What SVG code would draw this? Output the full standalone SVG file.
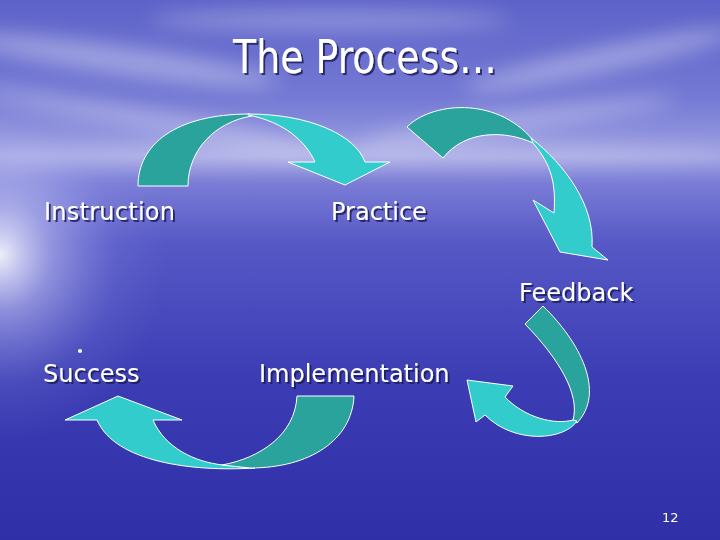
<svg xmlns="http://www.w3.org/2000/svg" width="720" height="540" viewBox="0 0 720 540">
<defs>
<linearGradient id="bg" x1="0" y1="0" x2="0" y2="1">
<stop offset="0" stop-color="#5d62c9"/>
<stop offset="0.18" stop-color="#7479d4"/>
<stop offset="0.29" stop-color="#9ea0e2"/>
<stop offset="0.34" stop-color="#7a7cd6"/>
<stop offset="0.45" stop-color="#5658c6"/>
<stop offset="0.7" stop-color="#3c3db4"/>
<stop offset="1" stop-color="#2f30a8"/>
</linearGradient>
<radialGradient id="glow" cx="0" cy="0" r="1" gradientUnits="userSpaceOnUse" gradientTransform="translate(0 255) scale(170 190)">
<stop offset="0" stop-color="#ffffff" stop-opacity="0.9"/>
<stop offset="0.3" stop-color="#dfe1ff" stop-opacity="0.45"/>
<stop offset="0.7" stop-color="#a8acf0" stop-opacity="0.12"/>
<stop offset="1" stop-color="#a0a4f0" stop-opacity="0"/>
</radialGradient>
<filter id="blur" x="-50%" y="-50%" width="200%" height="200%"><feGaussianBlur stdDeviation="10"/></filter>
<filter id="sh" x="-10%" y="-30%" width="130%" height="160%"><feDropShadow dx="2" dy="2" stdDeviation="0.6" flood-color="#1c1c55" flood-opacity="0.8"/></filter>
<style>
.lbl{font-family:"DejaVu Sans","Liberation Sans",sans-serif;font-size:24px;fill:#ffffff;filter:url(#sh)}
.dark{fill:#2aa39d;stroke:#ffffff;stroke-width:1;stroke-linejoin:round}
.light{fill:#33cccc;stroke:#ffffff;stroke-width:1;stroke-linejoin:round}
</style>
</defs>
<rect width="720" height="540" fill="url(#bg)"/>
<g filter="url(#blur)" fill="#ffffff">
<ellipse cx="120" cy="60" rx="160" ry="14" opacity="0.35" transform="rotate(8 120 60)"/>
<ellipse cx="330" cy="20" rx="180" ry="10" opacity="0.3"/>
<ellipse cx="600" cy="60" rx="140" ry="12" opacity="0.35" transform="rotate(-12 600 60)"/>
<ellipse cx="520" cy="120" rx="160" ry="10" opacity="0.3" transform="rotate(-8 520 120)"/>
<ellipse cx="150" cy="120" rx="180" ry="10" opacity="0.3" transform="rotate(10 150 120)"/>
<ellipse cx="360" cy="155" rx="380" ry="10" opacity="0.3"/>
</g>
<rect width="720" height="540" fill="url(#glow)"/>
<text x="233" y="73" textLength="264" lengthAdjust="spacingAndGlyphs" class="lbl" style="font-size:46px">The Process…</text>
<g id="connectors">
<g id="arrow1">
<path class="dark" d="M138,186 C138,145 175,114 250,114 L252,116 C215,122 188,150 188,186 Z"/>
<path class="light" d="M248,114 C310,114 355,135 365,162 L390,162 L345,185 L288,162 L315,162 C306,142 285,122 248,115 Z"/>
</g>
<g id="arrow2">
<path class="dark" d="M407,127 C430,103 495,95 533,140 L533,143 C505,130 465,130 443,158 Z"/>
<path class="light" d="M531,138 C565,165 595,205 592,247 L608,260 L560,252 L533,200 L554,213 C556,185 552,165 533,143 Z"/>
</g>
<g id="arrow3">
<path class="dark" d="M543,306 C580,342 606,392 577,423 L573,420 C580,395 560,360 525,324 Z"/>
<path class="light" d="M577,421 C565,440 515,445 485,415 L476,422 L467,380 L513,386 L505,397 C525,418 555,425 573,420 Z"/>
</g>
<g id="arrow4">
<path class="light" d="M255,468 C192,472 115,462 97,420 L65,420 L118,396 L182,420 L153,420 C165,448 195,462 223,465 Z"/>
<path class="dark" d="M297,396 L354,396 C352,440 310,468 250,468 L222,465 C260,458 295,435 297,396 Z"/>
</g>
</g>
<g id="instruction"><text x="44" y="220" class="lbl" textLength="131">Instruction</text></g>
<g id="practice"><text x="331" y="220" class="lbl">Practice</text></g>
<g id="feedback"><text x="519" y="301" class="lbl">Feedback</text></g>
<g id="success"><text x="43" y="382" class="lbl">Success</text><circle cx="80" cy="351" r="2" fill="#ffffff"/></g>
<g id="implementation"><text x="259" y="382" class="lbl">Implementation</text></g>
<text x="662" y="522" style="font-family:'DejaVu Sans','Liberation Sans',sans-serif;font-size:13px;fill:#ffffff">12</text>
</svg>
